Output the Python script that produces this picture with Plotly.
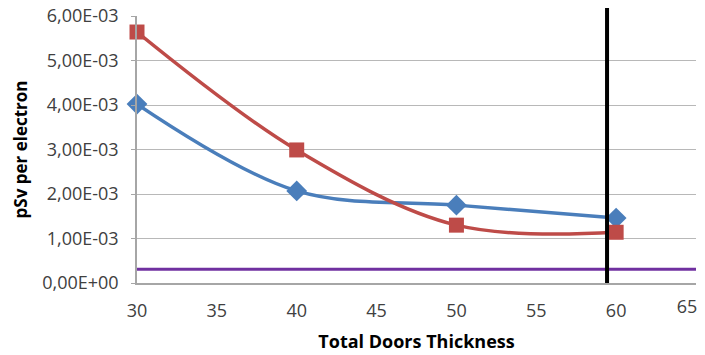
import plotly.graph_objects as go

# data
thickness = [30, 40, 50, 60]
dose_blue = [4.02e-3, 2.07e-3, 1.75e-3, 1.46e-3]
dose_red = [5.64e-3, 2.99e-3, 1.30e-3, 1.14e-3]
limit_x = [30, 65]
limit_y = [0.31e-3, 0.31e-3]
cutoff_x = 59.43

y_ticks = [0, 1e-3, 2e-3, 3e-3, 4e-3, 5e-3, 6e-3]
y_labels = ["0,00E+00", "1,00E-03", "2,00E-03", "3,00E-03", "4,00E-03", "5,00E-03", "6,00E-03"]
x_ticks = [30, 35, 40, 45, 50, 55, 60, 65]

fig = go.Figure()

# limit line sits on an overlay x axis that only carries the last tick label
fig.add_trace(go.Scatter(
    x=limit_x, y=limit_y, mode='lines', xaxis='x2',
    line=dict(color='#7030a0', width=3), showlegend=False
))

fig.add_trace(go.Scatter(
    x=thickness, y=dose_blue, mode='lines+markers',
    line=dict(color='#4a7ebb', width=3.5, shape='spline', smoothing=1),
    marker=dict(symbol='diamond', size=16, color='#4a7ebb'),
    showlegend=False, cliponaxis=False
))

fig.add_trace(go.Scatter(
    x=thickness, y=dose_red, mode='lines+markers',
    line=dict(color='#be4b48', width=3.5, shape='spline', smoothing=1),
    marker=dict(symbol='square', size=15, color='#be4b48'),
    showlegend=False, cliponaxis=False
))

# vertical cutoff line, runs a bit above the plot top
fig.add_shape(type='line', xref='x', yref='paper',
              x0=cutoff_x, x1=cutoff_x, y0=0, y1=1.05,
              line=dict(color='black', width=4), layer='above')

# page body adds an 8px offset, so the figure is 8px smaller than the window
fig.update_layout(
    width=697, height=347,
    margin=dict(l=129, r=9, t=8, b=72),
    plot_bgcolor='white', paper_bgcolor='white',
    font=dict(family='Open Sans, Liberation Sans, sans-serif', color='#404040', size=18),
    xaxis=dict(
        range=[30, 65], tickvals=x_ticks[:-1], showgrid=False, automargin=False,
        showline=True, linecolor='#a6a6a6', linewidth=1.5, zeroline=False,
        ticks='', ticklabelstandoff=11, ticklabeloverflow='allow',
        tickfont=dict(size=18, color='#404040'),
        title=dict(text='<b>Total Doors Thickness</b>', font=dict(size=18, color='black'), standoff=14),
    ),
    xaxis2=dict(
        overlaying='x', side='bottom', range=[30, 65], tickvals=x_ticks[-1:],
        showgrid=False, showline=False, zeroline=False, automargin=False,
        ticks='', ticklabelstandoff=11, ticklabelshift=-9, ticklabeloverflow='allow',
        tickfont=dict(size=18, color='#404040'),
    ),
    yaxis=dict(
        range=[0, 6e-3], tickvals=y_ticks, ticktext=y_labels, automargin=False,
        showgrid=True, gridcolor='#b8b8b8', gridwidth=1.2, zeroline=False,
        showline=True, linecolor='#a6a6a6', linewidth=1.5,
        ticks='outside', ticklen=4, tickcolor='#a6a6a6', ticklabelstandoff=9,
        ticklabeloverflow='allow',
        tickfont=dict(size=18, color='#404040'),
        title=dict(text='<b>pSv per electron</b>', font=dict(size=17, color='black'), standoff=10),
    ),
)

fig.write_html("out.html")
